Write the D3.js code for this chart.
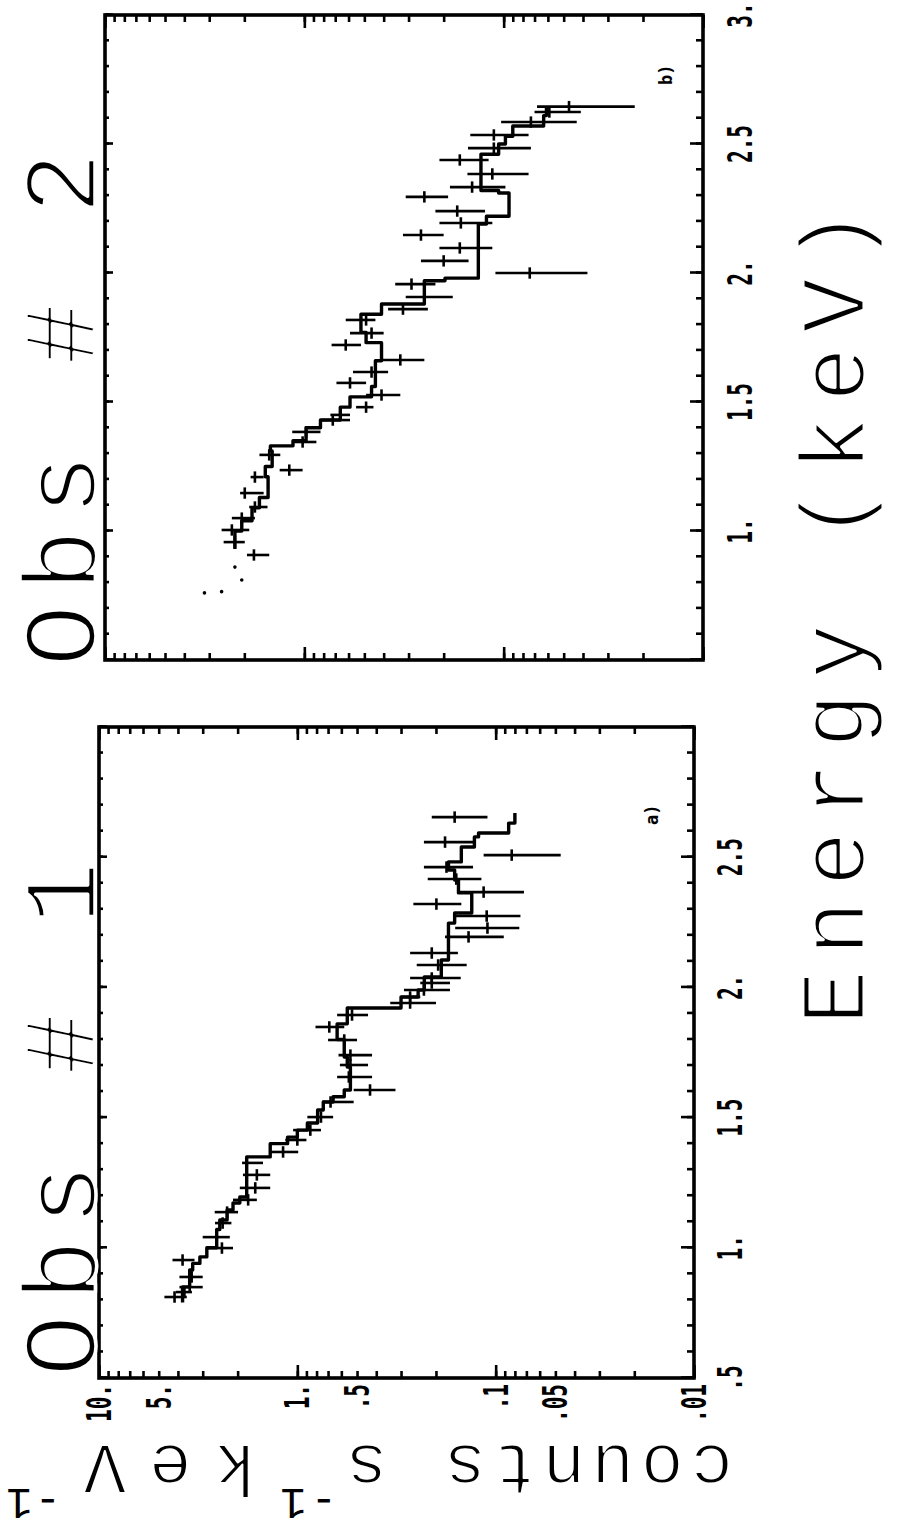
<!DOCTYPE html>
<html>
<head>
<meta charset="utf-8">
<script src="https://cdn.jsdelivr.net/npm/d3@7"></script>
<style>
  body { margin: 0; background: #fff; }
</style>
</head>
<body>
<div id="chart"></div>
<script>

// ---- data (energy in keV, counts s-1 keV-1) ----

// Obs # 1 : data points with count errors
const eA  = [0.811,0.83,0.849,0.888,0.953,0.999,1.041,1.095,1.137,1.184,1.23,1.28,1.326,1.368,1.414,1.452,1.502,1.56,1.606,1.656,1.702,1.74,1.798,1.848,1.894,1.94,1.963,1.99,2.017,2.036,2.086,2.132,2.194,2.228,2.274,2.32,2.366,2.416,2.462,2.508,2.558,2.654];
const cA  = [4.16,3.71,3.49,3.41,3.79,2.40,2.55,2.38,2.26,1.77,1.63,1.60,1.80,1.18,1.00,0.86,0.76,0.68,0.43,0.55,0.54,0.54,0.58,0.69,0.53,0.27,0.27,0.23,0.21,0.21,0.195,0.21,0.137,0.11,0.111,0.199,0.115,0.158,0.177,0.083,0.18,0.161];
const hiA = [4.68,4.10,3.93,3.93,4.26,2.86,3.00,2.60,2.61,2.11,1.95,1.88,1.90,1.37,1.15,1.05,0.89,0.75,0.52,0.63,0.61,0.62,0.70,0.81,0.63,0.34,0.30,0.29,0.24,0.27,0.25,0.27,0.18,0.16,0.16,0.26,0.154,0.22,0.23,0.115,0.23,0.21];
const loA = [3.61,3.40,3.00,3.00,3.30,2.11,2.19,2.15,1.99,1.60,1.37,1.37,1.49,0.99,0.90,0.76,0.66,0.52,0.32,0.42,0.44,0.42,0.50,0.58,0.44,0.20,0.24,0.17,0.17,0.15,0.14,0.155,0.091,0.076,0.075,0.149,0.072,0.118,0.13,0.047,0.13,0.11];
// Obs # 1 : folded model (step starts)
const mEA = [0.79,0.85,0.915,0.94,0.965,1.00,1.07,1.107,1.145,1.172,1.195,1.349,1.40,1.425,1.452,1.479,1.529,1.56,1.58,1.606,1.694,1.733,1.80,1.86,1.921,1.963,1.99,2.04,2.105,2.247,2.286,2.363,2.412,2.451,2.482,2.539,2.578,2.593,2.631,2.67];
const mCA = [3.79,3.49,3.37,3.10,2.86,2.55,2.46,2.26,2.11,1.95,1.80,1.37,1.12,1.00,0.89,0.79,0.74,0.66,0.58,0.54,0.56,0.58,0.63,0.56,0.30,0.246,0.229,0.188,0.173,0.161,0.132,0.154,0.161,0.173,0.149,0.128,0.122,0.086,0.080,0.080];

// Obs # 2 : data points with count errors
const eB  = [0.907,0.957,1.004,1.05,1.093,1.147,1.209,1.236,1.295,1.345,1.384,1.43,1.45,1.48,1.527,1.574,1.616,1.663,1.721,1.767,1.818,1.86,1.907,1.957,2.0,2.047,2.097,2.147,2.194,2.24,2.295,2.333,2.384,2.438,2.484,2.535,2.585,2.624,2.645];
const cB  = [1.79,2.23,2.31,2.06,1.77,1.99,1.77,1.19,1.50,1.02,0.98,0.72,0.66,0.49,0.41,0.59,0.46,0.33,0.62,0.46,0.49,0.32,0.25,0.29,0.074,0.20,0.166,0.26,0.164,0.171,0.25,0.144,0.114,0.166,0.112,0.112,0.073,0.059,0.047];
const hiB = [1.94,2.54,2.60,2.31,1.89,2.10,1.86,1.33,1.68,1.15,1.15,0.82,0.74,0.55,0.49,0.69,0.57,0.41,0.73,0.59,0.62,0.38,0.31,0.35,0.11,0.26,0.21,0.32,0.21,0.22,0.31,0.186,0.152,0.21,0.151,0.147,0.103,0.07,0.068];
const loB = [1.50,1.99,1.89,1.77,1.53,1.60,1.60,1.02,1.32,0.87,0.83,0.59,0.59,0.45,0.33,0.49,0.38,0.25,0.52,0.40,0.44,0.24,0.18,0.22,0.038,0.15,0.114,0.20,0.114,0.124,0.19,0.098,0.075,0.119,0.073,0.075,0.043,0.041,0.022];
// Obs # 2 : faint low-energy points
const fEB = [0.76,0.765,0.81,0.86];
const fCB = [3.17,2.6,2.06,2.23];
// Obs # 2 : folded model (step starts)
const mEB = [0.93,1.00,1.04,1.09,1.13,1.21,1.25,1.31,1.33,1.35,1.40,1.43,1.48,1.52,1.56,1.66,1.73,1.77,1.84,1.88,1.97,1.98,2.19,2.22,2.31,2.32,2.46,2.50,2.53,2.57,2.61,2.64];
const mCB = [2.23,2.06,1.83,1.68,1.52,1.57,1.45,1.48,1.14,0.98,0.83,0.66,0.59,0.46,0.44,0.41,0.49,0.52,0.41,0.25,0.197,0.134,0.122,0.094,0.106,0.13,0.106,0.098,0.090,0.063,0.061,0.061];

const binHalf = 0.022;   // half width of an energy bin, keV

// ticks
const energyTickVals = [0.5, 1, 1.5, 2, 2.5, 3];
const energyTickA = [".5", "1.", "1.5", "2.", "2.5", ""];
const energyTickB = ["", "1.", "1.5", "2.", "2.5", "3."];
const countTickVals = [10, 5, 1, 0.5, 0.1, 0.05, 0.01];
const countTickText = ["10.", "5.", "1.", ".5", ".1", ".05", ".01"];
const countMajor = [0.01, 0.1, 1, 10];


// ---- layout: figure is drawn landscape, then turned a quarter turn ----

const W = 1533, H = 903;

const svg = d3.select("#chart").append("svg")
    .attr("width", H)
    .attr("height", W);

svg.append("rect").attr("width", H).attr("height", W).attr("fill", "#fff");

const fig = svg.append("g")
    .attr("transform", `translate(0,${W}) rotate(-90)`);

const panels = [
    {title: "Obs # 1", tag: "a)", x0: 155, x1: 806, yTop: 99, yBot: 694,
     e: eA, c: cA, hi: hiA, lo: loA, me: mEA, mc: mCA, fe: [], fc: [],
     eLabels: energyTickA, countLabels: true, labelY: 742, titleX: 156, tagX: 708, tagY: 658},
    {title: "Obs # 2", tag: "b)", x0: 873, x1: 1518, yTop: 105, yBot: 703,
     e: eB, c: cB, hi: hiB, lo: loB, me: mEB, mc: mCB, fe: fEB, fc: fCB,
     eLabels: energyTickB, countLabels: false, labelY: 752, titleX: 866, tagX: 1448, tagY: 672}
];

const monoFont = "'Liberation Mono', 'DejaVu Sans Mono', monospace";
const tickFont = "'DejaVu Sans Mono', monospace";

// thin the glyphs a little with a white rim, the originals are pen-plotted
function thin(sel, w) {
    sel.style("stroke", "#fff")
        .style("stroke-width", w + "px")
        .style("stroke-linejoin", "round");
}

panels.forEach(drawPanel);

function drawPanel(p) {

    let x = d3.scaleLinear().domain([0.5, 3]).range([p.x0, p.x1]);
    let y = d3.scaleLog().domain([0.01, 10]).range([p.yBot, p.yTop]);

    let g = fig.append("g");

    // ticks, all pointing inwards
    let minorE = d3.range(5, 31).map(d => d / 10);
    let tick = (sel, axis) => sel.call(axis).call(s => s.select(".domain").remove());

    [[d3.axisBottom, p.yBot, 7, 13], [d3.axisTop, p.yTop, 4, 8]].forEach(([ax, pos, tMin, tMaj]) => {
        let a = g.append("g").attr("transform", `translate(0,${pos})`);
        tick(a.append("g"), ax(x).tickValues(minorE).tickSize(-tMin).tickFormat(""));
        tick(a.append("g"), ax(x).tickValues(energyTickVals).tickSize(-tMaj).tickFormat(""));
    });
    [[d3.axisLeft, p.x0], [d3.axisRight, p.x1]].forEach(([ax, pos]) => {
        let a = g.append("g").attr("transform", `translate(${pos},0)`);
        tick(a.append("g"), ax(y).tickValues(y.ticks()).tickSize(-7).tickFormat(""));
        tick(a.append("g"), ax(y).tickValues(countMajor).tickSize(-13).tickFormat(""));
    });
    g.selectAll(".tick line").attr("stroke", "#000").attr("stroke-width", 2.6);

    // frame
    g.append("rect")
        .attr("x", p.x0)
        .attr("y", p.yTop)
        .attr("width", p.x1 - p.x0)
        .attr("height", p.yBot - p.yTop)
        .attr("fill", "none")
        .attr("stroke", "#000")
        .attr("stroke-width", 3.6);

    // tick labels (tall, narrow plotter digits)
    g.selectAll("text.elab")
        .data(energyTickVals.map((v, i) => ({v: v, t: p.eLabels[i]})).filter(d => d.t))
        .enter()
        .append("text")
        .attr("class", "elab")
        .attr("transform", d => `translate(${x(d.v)},${p.labelY}) scale(0.62,1)`)
        .attr("text-anchor", "middle")
        .style("font-family", tickFont)
        .style("font-weight", "bold")
        .style("font-size", "34px")
        .text(d => d.t);

    if (p.countLabels) {
        g.selectAll("text.clab")
            .data(countTickVals.map((v, i) => ({v: v, t: countTickText[i]})))
            .enter()
            .append("text")
            .attr("class", "clab")
            .attr("transform", d => `translate(${p.x0 - 6},${y(d.v) + 12}) scale(0.62,1)`)
            .attr("text-anchor", "end")
            .style("font-family", tickFont)
            .style("font-weight", "bold")
            .style("font-size", "34px")
            .text(d => d.t);
    }

    // model, as a histogram
    let line = d3.line()
        .x(d => x(d[0]))
        .y(d => y(d[1]))
        .curve(d3.curveStepAfter);

    g.append("path")
        .datum(p.me.map((e, i) => [e, p.mc[i]]))
        .attr("d", line)
        .attr("fill", "none")
        .attr("stroke", "#000")
        .attr("stroke-width", 3.4)
        .attr("stroke-linejoin", "round");

    // data crosses
    let pts = p.e.map((e, i) => ({e: e, c: p.c[i], hi: p.hi[i], lo: p.lo[i]}));

    g.selectAll("line.ebar")
        .data(pts)
        .enter()
        .append("line")
        .attr("class", "ebar")
        .attr("x1", d => x(d.e - binHalf))
        .attr("x2", d => x(d.e + binHalf))
        .attr("y1", d => y(d.c))
        .attr("y2", d => y(d.c))
        .attr("stroke", "#000")
        .attr("stroke-width", 2.6);

    g.selectAll("line.cbar")
        .data(pts)
        .enter()
        .append("line")
        .attr("class", "cbar")
        .attr("x1", d => x(d.e))
        .attr("x2", d => x(d.e))
        .attr("y1", d => y(d.hi))
        .attr("y2", d => y(d.lo))
        .attr("stroke", "#000")
        .attr("stroke-width", 2.6);

    g.selectAll("circle.faint")
        .data(p.fe.map((e, i) => [e, p.fc[i]]))
        .enter()
        .append("circle")
        .attr("class", "faint")
        .attr("cx", d => x(d[0]))
        .attr("cy", d => y(d[1]))
        .attr("r", 1.8)
        .attr("fill", "#000");

    // panel title and tag
    g.append("text")
        .attr("x", p.titleX)
        .attr("y", 95)
        .style("font-family", monoFont)
        .style("font-size", "104px")
        .style("letter-spacing", "13px")
        .text(p.title)
        .call(thin, 3.5);

    g.append("text")
        .attr("x", p.tagX)
        .attr("y", p.tagY)
        .style("font-family", tickFont)
        .style("font-weight", "bold")
        .style("font-size", "17px")
        .text(p.tag);
}

// shared axis titles
fig.append("text")
    .attr("x", 508)
    .attr("y", 864)
    .style("font-family", monoFont)
    .style("font-size", "92px")
    .style("letter-spacing", "14px")
    .text("Energy (keV)")
    .call(thin, 3);

// y title, written upwards; pieces placed along the baseline
let ylab = fig.append("text")
    .attr("transform", "translate(88,733) rotate(-90)")
    .style("font-family", monoFont)
    .style("font-size", "72px")
    .style("letter-spacing", "6px");

ylab.append("tspan").attr("x", 0).attr("y", 0).text("counts s").call(thin, 2);
ylab.append("tspan").attr("x", 396).attr("y", -44)
    .style("font-size", "44px").style("letter-spacing", "4px").text("-1");
ylab.append("tspan").attr("x", 476).attr("y", 0)
    .style("letter-spacing", "22px").text("keV").call(thin, 2);
ylab.append("tspan").attr("x", 672).attr("y", -44)
    .style("font-size", "44px").style("letter-spacing", "2px").text("-1");

</script>
</body>
</html>
